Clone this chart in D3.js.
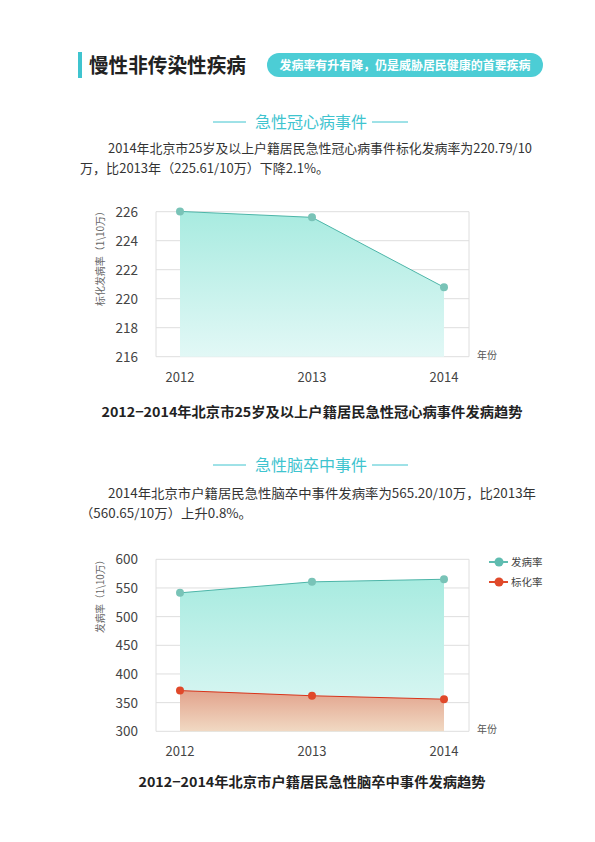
<!DOCTYPE html>
<html>
<head>
<meta charset="utf-8">
<script src="https://cdn.jsdelivr.net/npm/d3@7"></script>
<style>
  body { margin: 0; background: #fff; }
  svg { display: block; font-family: "Noto Sans CJK SC", "Noto Sans", sans-serif; }
</style>
</head>
<body>
<svg id="page" width="595" height="842"></svg>
<script>
// chart data
var years = ['2012', '2013', '2014'];
var chdRate = [226.02, 225.61, 220.79];
var chdTicks = [216, 218, 220, 222, 224, 226];
var strokeRate = [541.5, 560.65, 565.20];
var strokeStd = [371, 362, 356];
var strokeTicks = [300, 350, 400, 450, 500, 550, 600];
var legendNames = ['发病率', '标化率'];

var teal = '#3fc4cf';
var svg = d3.select('#page');

var defs = svg.append('defs');
function grad(id, top, bottom) {
  var g = defs.append('linearGradient').attr('id', id)
      .attr('x1', 0).attr('y1', 0).attr('x2', 0).attr('y2', 1);
  g.append('stop').attr('offset', '0%').attr('stop-color', top);
  g.append('stop').attr('offset', '100%').attr('stop-color', bottom);
}
grad('gTeal', '#a8ebe0', '#e2f8f6');
grad('gRed', '#e2a38c', '#f1d9c3');

// header
svg.append('rect').attr('x', 78).attr('y', 52).attr('width', 4).attr('height', 26).attr('fill', teal);
svg.append('text').attr('x', 89).attr('y', 73).attr('font-size', 20).attr('font-weight', 'bold')
    .attr('fill', '#222').attr('textLength', 157).attr('lengthAdjust', 'spacingAndGlyphs')
    .text('慢性非传染性疾病');
svg.append('rect').attr('x', 267).attr('y', 53).attr('width', 276).attr('height', 24).attr('rx', 12)
    .attr('fill', '#4ccdd5');
svg.append('text').attr('x', 405).attr('y', 70).attr('text-anchor', 'middle').attr('font-size', 12.5)
    .attr('font-weight', 'bold').attr('fill', '#fff').attr('textLength', 251)
    .attr('lengthAdjust', 'spacingAndGlyphs').text('发病率有升有降，仍是威胁居民健康的首要疾病');

function heading(y, label) {
  svg.append('line').attr('x1', 213).attr('x2', 246).attr('y1', y).attr('y2', y)
      .attr('stroke', teal).attr('stroke-width', 1);
  svg.append('line').attr('x1', 372).attr('x2', 408).attr('y1', y).attr('y2', y)
      .attr('stroke', teal).attr('stroke-width', 1);
  svg.append('text').attr('x', 311).attr('y', y + 6).attr('text-anchor', 'middle')
      .attr('font-size', 16).attr('fill', teal).text(label);
}

function para(y, lines) {
  lines.forEach(function(l, i) {
    svg.append('text').attr('x', i === 0 ? 108 : 80).attr('y', y + i * 19.5)
        .attr('font-size', 12.6).attr('fill', '#333').attr('textLength', l.w)
        .attr('lengthAdjust', 'spacingAndGlyphs').text(l.t);
  });
}

function caption(y, label, w) {
  svg.append('text').attr('x', 312).attr('y', y).attr('text-anchor', 'middle')
      .attr('font-size', 13.5).attr('font-weight', 'bold').attr('fill', '#222')
      .attr('textLength', w).attr('lengthAdjust', 'spacingAndGlyphs').text(label);
}

heading(122, '急性冠心病事件');
para(153, [
  { t: '2014年北京市25岁及以上户籍居民急性冠心病事件标化发病率为220.79/10', w: 424 },
  { t: '万，比2013年（225.61/10万）下降2.1%。', w: 249 }
]);
caption(417, '2012−2014年北京市25岁及以上户籍居民急性冠心病事件发病趋势', 421);

heading(465, '急性脑卒中事件');
para(498, [
  { t: '2014年北京市户籍居民急性脑卒中事件发病率为565.20/10万，比2013年', w: 428 },
  { t: '（560.65/10万）上升0.8%。', w: 172 }
]);
caption(787, '2012−2014年北京市户籍居民急性脑卒中事件发病趋势', 347);

// generic chart frame
function frame(top, bottom, domain, ticks, yLabel, yLabelY, yLabelW) {
  var g = svg.append('g');
  var x = d3.scalePoint().domain(years).range([180, 444]);
  var y = d3.scaleLinear().domain(domain).range([bottom, top]);
  var left = 156, right = 469;

  g.selectAll('line.grid').data(ticks).enter().append('line').attr('class', 'grid')
      .attr('x1', left).attr('x2', right)
      .attr('y1', function(d) { return y(d); }).attr('y2', function(d) { return y(d); })
      .attr('stroke', '#dedede').attr('stroke-width', 1);
  g.append('line').attr('x1', left).attr('x2', left).attr('y1', top).attr('y2', bottom)
      .attr('stroke', '#dedede');
  g.append('line').attr('x1', right).attr('x2', right).attr('y1', top).attr('y2', bottom)
      .attr('stroke', '#dedede');

  g.selectAll('text.yt').data(ticks).enter().append('text').attr('class', 'yt')
      .attr('x', 138).attr('y', function(d) { return y(d) + 5; })
      .attr('text-anchor', 'end').attr('font-size', 13.5).attr('fill', '#444')
      .text(function(d) { return d; });
  g.selectAll('text.xt').data(years).enter().append('text').attr('class', 'xt')
      .attr('x', function(d) { return x(d); }).attr('y', bottom + 25)
      .attr('text-anchor', 'middle').attr('font-size', 13).attr('fill', '#444')
      .text(function(d) { return d; });
  g.append('text').attr('x', 477).attr('y', bottom + 2).attr('font-size', 10)
      .attr('fill', '#555').text('年份');
  g.append('text').attr('transform', 'translate(104,' + yLabelY + ') rotate(-90)')
      .attr('text-anchor', 'middle').attr('font-size', 10).attr('fill', '#666')
      .attr('textLength', yLabelW).attr('lengthAdjust', 'spacingAndGlyphs').text(yLabel);
  return { g: g, x: x, y: y };
}

function series(c, values, base, fill, lineCol, dotCol) {
  var data = years.map(function(d, i) { return { year: d, v: values[i] }; });
  var area = d3.area().x(function(d) { return c.x(d.year); })
      .y0(c.y(base)).y1(function(d) { return c.y(d.v); });
  var line = d3.line().x(function(d) { return c.x(d.year); }).y(function(d) { return c.y(d.v); });
  c.g.append('path').datum(data).attr('d', area).attr('fill', fill);
  c.g.append('path').datum(data).attr('d', line).attr('fill', 'none')
      .attr('stroke', lineCol).attr('stroke-width', 1);
  c.g.selectAll(null).data(data).enter().append('circle')
      .attr('cx', function(d) { return c.x(d.year); })
      .attr('cy', function(d) { return c.y(d.v); })
      .attr('r', 4).attr('fill', dotCol);
}

var c1 = frame(211.7, 356.7, [216, 226], chdTicks, '标化发病率（1\\10万）', 256, 100);
series(c1, chdRate, 216, 'url(#gTeal)', '#4db5a8', '#79c3b7');

var c2 = frame(559.3, 731.3, [300, 600], strokeTicks, '发病率（1\\10万）', 594, 78);
series(c2, strokeRate, 300, 'url(#gTeal)', '#4db5a8', '#79c3b7');
series(c2, strokeStd, 300, 'url(#gRed)', '#d8341b', '#e0492a');

// legend
var legCols = ['#5fbcb0', '#e0492a'];
var leg = svg.append('g').selectAll('g').data(legendNames).enter().append('g')
    .attr('transform', function(d, i) { return 'translate(489,' + (562 + i * 20) + ')'; });
leg.append('line').attr('x1', 0).attr('x2', 19).attr('stroke', function(d, i) { return legCols[i]; })
    .attr('stroke-width', 2);
leg.append('circle').attr('cx', 10).attr('r', 4.5).attr('fill', function(d, i) { return legCols[i]; });
leg.append('text').attr('x', 22).attr('y', 4).attr('font-size', 10.5).attr('fill', '#444')
    .text(function(d) { return d; });
</script>
</body>
</html>
